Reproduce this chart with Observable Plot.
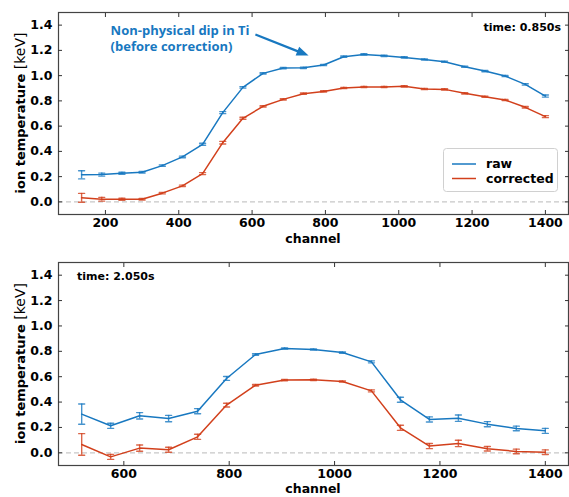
<!DOCTYPE html>
<html><head><meta charset="utf-8">
<script src="https://cdn.jsdelivr.net/npm/d3@7"></script>
<script src="https://cdn.jsdelivr.net/npm/@observablehq/plot@0.6"></script>
<style>
body{margin:0;background:#fff}
#chart{position:relative;width:569px;height:497px}
#chart svg{display:block}
</style>
</head><body><div id="chart"></div>
<script>
// ---- data ----
const seriesNames = ["raw", "corrected"];
const seriesColors = ["#1878c0", "#d2401c"];

const topChannels = [135,190,245,300,355,410,465,520,575,630,685,740,795,850,905,960,1015,1070,1125,1180,1235,1290,1345,1400];
const topRaw      = [0.214,0.216,0.227,0.235,0.287,0.356,0.456,0.707,0.907,1.018,1.060,1.062,1.084,1.150,1.168,1.157,1.144,1.128,1.110,1.070,1.036,0.997,0.931,0.838];
const topRawErr   = [0.032,0.012,0.008,0.006,0.006,0.006,0.008,0.008,0.006,0.005,0.005,0.005,0.005,0.005,0.005,0.005,0.005,0.005,0.005,0.005,0.005,0.005,0.006,0.008];
const topCorr     = [0.032,0.021,0.021,0.021,0.069,0.127,0.224,0.469,0.662,0.757,0.812,0.857,0.875,0.902,0.910,0.910,0.915,0.894,0.891,0.860,0.833,0.807,0.749,0.675];
const topCorrErr  = [0.035,0.015,0.008,0.006,0.006,0.006,0.008,0.010,0.008,0.005,0.005,0.005,0.005,0.005,0.005,0.005,0.005,0.005,0.005,0.005,0.005,0.005,0.006,0.008];

const botChannels = [520,575,630,685,740,795,850,905,960,1015,1070,1125,1180,1235,1290,1345,1400];
const botRaw      = [0.305,0.213,0.292,0.270,0.328,0.586,0.775,0.822,0.814,0.790,0.717,0.418,0.263,0.273,0.226,0.192,0.173];
const botRawErr   = [0.080,0.020,0.025,0.025,0.020,0.015,0.006,0.005,0.005,0.005,0.008,0.020,0.020,0.025,0.020,0.018,0.020];
const botCorr     = [0.066,-0.032,0.037,0.024,0.126,0.376,0.533,0.573,0.575,0.562,0.488,0.197,0.053,0.074,0.032,0.011,0.005];
const botCorrErr  = [0.085,0.020,0.025,0.020,0.020,0.015,0.006,0.005,0.005,0.005,0.008,0.020,0.020,0.025,0.018,0.018,0.018];

const yTicks = [0.0,0.2,0.4,0.6,0.8,1.0,1.2,1.4];
const topXTicks = [200,400,600,800,1000,1200,1400];
const botXTicks = [600,800,1000,1200,1400];
const timeLabels = ["time: 0.850s", "time: 2.050s"];
const annotationText = ["Non-physical dip in Ti\n(before correction)"];
const annotationTextPos = [{x: 214, y: 1.414}];
const annotationArrow = [{x1: 609, y1: 1.326, x2: 754, y2: 1.159}];

// ---- helpers ----
const W = 569, ML = 58, MR = 1, MT = 12;
const yDomain = [-0.1, 1.5];
function rows(ch, vals, errs) {
  return ch.map((c, i) => ({x: c, y: vals[i], lo: vals[i] - errs[i], hi: vals[i] + errs[i]}));
}
const capShape = {draw(ctx, l) { ctx.moveTo(-l / 2, 0); ctx.lineTo(l / 2, 0); }};
const headSymbol = {draw(ctx) { ctx.moveTo(0, 0); ctx.lineTo(-12, -4.8); ctx.lineTo(-12, 4.8); ctx.closePath(); }};

function seriesMarks(data, color) {
  const eb = {stroke: color, strokeWidth: 1.4, strokeOpacity: 0.8};
  return [
    Plot.line(data, {x: "x", y: "y", stroke: color, strokeWidth: 1.5}),
    Plot.ruleX(data, {x: "x", y1: "lo", y2: "hi", ...eb}),
    Plot.vector(data, {x: "x", y: "lo", length: 6, anchor: "start", shape: capShape, ...eb}),
    Plot.vector(data, {x: "x", y: "hi", length: 6, anchor: "start", shape: capShape, ...eb})
  ];
}

function panel({height, marginBottom, xDomain, xTicks, series, extra}) {
  return Plot.plot({
    width: W, height,
    marginLeft: ML, marginRight: MR, marginTop: MT, marginBottom,
    style: {fontFamily: "DejaVu Sans", fontWeight: "bold", fontSize: "12px", color: "#000", background: "#fff", overflow: "visible"},
    x: {domain: xDomain, axis: null},
    y: {domain: yDomain, axis: null},
    marks: [
      Plot.ruleY([0], {stroke: "#c8c8c8", strokeWidth: 1.3, strokeDasharray: "5,3"}),
      ...series.flatMap(([d, c]) => seriesMarks(d, c)),
      ...(extra ? extra(height, marginBottom, xDomain) : []),
      Plot.frame({stroke: "#444", strokeWidth: 1.2}),
      Plot.axisY(yTicks, {anchor: "left", tickSize: -4, tickPadding: 10, tickFormat: d => d.toFixed(1), label: null, stroke: "#333", fontSize: 12.5}),
      Plot.axisY(yTicks, {anchor: "right", tickSize: -4, tickFormat: () => "", label: null, stroke: "#333"}),
      Plot.axisX(xTicks, {anchor: "bottom", tickSize: -4, tickPadding: 8, tickFormat: d => String(d), label: null, stroke: "#333", fontSize: 12.5}),
      Plot.axisX(xTicks, {anchor: "top", tickSize: -4, tickFormat: () => "", label: null, stroke: "#333"})
    ]
  });
}

function addLabels(svg, plotTop, plotBottom, xlabelBaseline) {
  const s = d3.select(svg);
  const yc = (plotTop + plotBottom) / 2;
  const t = s.append("text")
    .attr("transform", `translate(25,${yc}) rotate(-90)`)
    .attr("text-anchor", "middle")
    .attr("fill", "#000");
  t.append("tspan").attr("font-weight", "bold").attr("font-size", 13).text("ion temperature ");
  t.append("tspan").attr("font-weight", "normal").attr("font-size", 14).text("[keV]");
  s.append("text").attr("x", 313).attr("y", xlabelBaseline).attr("text-anchor", "middle")
    .attr("font-weight", "bold").attr("font-size", 12.5).attr("fill", "#000").text("channel");
}

const chart = document.getElementById("chart");

// top panel
const topData = [
  [rows(topChannels, topRaw, topRawErr), seriesColors[0]],
  [rows(topChannels, topCorr, topCorrErr), seriesColors[1]]
];
const topSvg = panel({
  height: 250, marginBottom: 36, xDomain: [72, 1463], xTicks: topXTicks, series: topData,
  extra: (h, mb, xd) => {
    const a = annotationArrow[0];
    const pxX = (W - ML - MR) / (xd[1] - xd[0]);
    const pxY = (h - MT - mb) / (yDomain[1] - yDomain[0]);
    const ang = Math.atan2((a.y1 - a.y2) * pxY, (a.x2 - a.x1) * pxX) * 180 / Math.PI;
    const back = 10 / Math.hypot((a.x2 - a.x1) * pxX, (a.y1 - a.y2) * pxY);
    const shaft = [{x1: a.x1, y1: a.y1, x2: a.x2 - (a.x2 - a.x1) * back, y2: a.y2 - (a.y2 - a.y1) * back}];
    return [
      Plot.text(annotationTextPos, {x: "x", y: "y", text: () => annotationText[0], textAnchor: "start", lineAnchor: "top", lineHeight: 1.25,
        fill: seriesColors[0], fontFamily: "Open Sans", fontWeight: "bold", fontSize: 13}),
      Plot.link(shaft, {x1: "x1", y1: "y1", x2: "x2", y2: "y2", stroke: seriesColors[0], strokeWidth: 2.2}),
      Plot.dot(annotationArrow, {x: "x2", y: "y2", symbol: headSymbol, r: 5, fill: seriesColors[0], stroke: "none", rotate: ang})
    ];
  }
});
chart.appendChild(topSvg);
addLabels(topSvg, 12, 214, 243);
{
  const s = d3.select(topSvg);
  s.append("text").attr("x", 561).attr("y", 30.5).attr("text-anchor", "end").attr("font-weight", "bold")
    .attr("font-size", 11).attr("fill", "#000").text(timeLabels[0]);
  const g = s.append("g");
  g.append("rect").attr("x", 443.5).attr("y", 148.5).attr("width", 114).attr("height", 43).attr("rx", 3)
    .attr("fill", "#fff").attr("fill-opacity", 0.85).attr("stroke", "#d0d0d0");
  seriesNames.forEach((name, i) => {
    const yy = 164 + i * 14.5;
    g.append("line").attr("x1", 452).attr("x2", 476).attr("y1", yy).attr("y2", yy)
      .attr("stroke", seriesColors[i]).attr("stroke-width", 1.5);
    g.append("text").attr("x", 486).attr("y", yy + 4.3).attr("text-anchor", "start").attr("font-weight", "bold").attr("font-size", 12.5)
      .attr("fill", "#000").text(name);
  });
}

// bottom panel
const botData = [
  [rows(botChannels, botRaw, botRawErr), seriesColors[0]],
  [rows(botChannels, botCorr, botCorrErr), seriesColors[1]]
];
const botSvg = panel({height: 247, marginBottom: 32, xDomain: [476, 1444], xTicks: botXTicks, series: botData});
chart.appendChild(botSvg);
addLabels(botSvg, 12, 215, 243);
d3.select(botSvg).append("text").attr("x", 77).attr("y", 30).attr("text-anchor", "start").attr("font-weight", "bold")
  .attr("font-size", 11).attr("fill", "#000").text(timeLabels[1]);
</script>
</body></html>
